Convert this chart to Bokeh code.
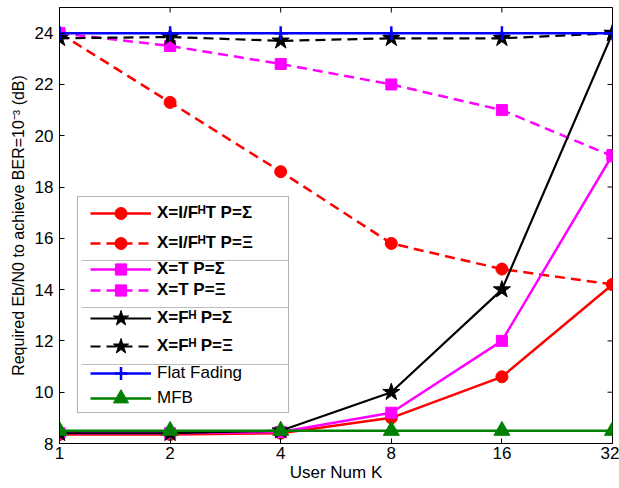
import numpy as np
from bokeh.plotting import figure
from bokeh.models import Range1d, FixedTicker, Legend, LegendItem, BoxAnnotation
from bokeh.embed import file_html
from bokeh.resources import INLINE

# ---- data ----
K = [1, 2, 4, 8, 16, 32]
k_labels = ["1", "2", "4", "8", "16", "32"]
y_ticks = [8, 10, 12, 14, 16, 18, 20, 22, 24]

ifht_sigma = [8.35, 8.35, 8.4, 9.0, 10.6, 14.2]
ifht_xi = [24.0, 21.3, 18.6, 15.8, 14.8, 14.2]
t_sigma = [8.4, 8.4, 8.45, 9.2, 12.0, 19.25]
t_xi = [24.0, 23.5, 22.8, 22.0, 21.0, 19.2]
fh_sigma = [8.4, 8.4, 8.5, 10.0, 14.0, 24.0]
fh_xi = [23.8, 23.85, 23.7, 23.8, 23.8, 24.0]
flat_fading = [24.0, 24.0, 24.0, 24.0, 24.0, 24.0]
mfb = [8.5, 8.5, 8.5, 8.5, 8.5, 8.5]

labels = ["X=I/F\u1d34T P=\u03a3", "X=I/F\u1d34T P=\u039e",
          "X=T P=\u03a3", "X=T P=\u039e",
          "X=F\u1d34 P=\u03a3", "X=F\u1d34 P=\u039e",
          "Flat Fading", "MFB"]

FONT = "Liberation Sans"
x = np.log2(K)

p = figure(width=619, height=488, x_range=Range1d(0, 5), y_range=Range1d(8, 25),
           output_backend="svg", toolbar_location=None,
           min_border_left=59, min_border_right=7, min_border_top=7, min_border_bottom=45)
p.grid.visible = False
p.outline_line_color = "black"
p.outline_line_width = 1

for ax in (p.xaxis[0], p.yaxis[0]):
    ax.axis_line_color = "black"
    ax.major_tick_line_color = "black"
    ax.major_tick_in = 5
    ax.major_tick_out = 0
    ax.minor_tick_line_color = None
    ax.major_label_text_font = FONT
    ax.major_label_text_font_size = "17px"
    ax.major_label_text_color = "black"
    ax.axis_label_text_font = FONT
    ax.axis_label_text_font_style = "normal"
    ax.axis_label_text_color = "black"

p.xaxis.ticker = FixedTicker(ticks=[float(v) for v in x])
p.xaxis.major_label_overrides = {float(v): lab for v, lab in zip(x, k_labels)}
p.yaxis.ticker = FixedTicker(ticks=y_ticks)
p.xaxis.major_label_standoff = 3
p.yaxis.major_label_standoff = 6
p.xaxis.axis_label = "User Num K"
p.yaxis.axis_label = "Required Eb/N0 to achieve BER=10\u207b\u00b3 (dB)"
p.xaxis.axis_label_text_font_size = "17px"
p.yaxis.axis_label_text_font_size = "16px"
p.xaxis.axis_label_standoff = 1
p.yaxis.axis_label_standoff = 5

# inward ticks on the top and right edges of the box
p.ray(x=x, y=[p.y_range.end] * len(x), length=5, angle=-np.pi / 2, length_units="screen",
      line_color="black", line_width=1)
p.ray(x=[p.x_range.end] * len(y_ticks), y=y_ticks, length=5, angle=np.pi, length_units="screen",
      line_color="black", line_width=1)

series = [
    (ifht_sigma, "red", "solid", "circle", 12),
    (ifht_xi, "red", "10 6", "circle", 12),
    (t_sigma, "magenta", "solid", "square", 11),
    (t_xi, "magenta", "10 6", "square", 11),
    (fh_sigma, "black", "solid", "star", 18),
    (fh_xi, "black", "10 6", "star", 18),
    (flat_fading, "blue", "solid", "cross", 14),
    (mfb, "green", "solid", "triangle", 16),
]
legend_glyph_h = [30, 30, 28, 28, 40, 40, 32, 38]
rend = []
for ys, col, dash, mk, sz in series:
    l = p.line(x, ys, line_color=col, line_width=2.5 if col != "black" else 2.2, line_dash=dash)
    if mk == "cross":
        s = p.scatter(x, ys, marker=mk, size=sz, line_color=col, line_width=2.5)
    else:
        s = p.scatter(x, ys, marker=mk, size=sz, fill_color=col, line_color=col, line_width=1)
    rend.append([l, s])

# ---- legend box (frame-relative screen px) ----
SU = dict(left_units="screen", right_units="screen", top_units="screen", bottom_units="screen")
p.add_layout(BoxAnnotation(left=18, right=229, top=247, bottom=31, fill_color="white", fill_alpha=1.0,
                           line_color="black", line_width=1, **SU))
for sep in [183, 136, 79]:
    p.add_layout(BoxAnnotation(left=22, right=229, top=sep, bottom=sep, fill_alpha=0,
                               line_color="#808080", line_width=1, **SU))

row_centers = [230, 200, 174, 153, 125, 97, 70, 45]
for i, (lab, rr) in enumerate(zip(labels, rend)):
    gh = legend_glyph_h[i]
    leg = Legend(items=[LegendItem(label=lab, renderers=rr)],
                 location=(31, row_centers[i] - gh / 2), padding=0, margin=0, spacing=0,
                 glyph_width=61, glyph_height=gh, label_height=20, label_standoff=6,
                 label_text_font=FONT, label_text_font_size="17px",
                 label_text_font_style="bold" if i < 6 else "normal",
                 label_text_color="black",
                 border_line_color=None, background_fill_alpha=0)
    p.add_layout(leg)

open("out.html", "w").write(file_html(p, INLINE))
